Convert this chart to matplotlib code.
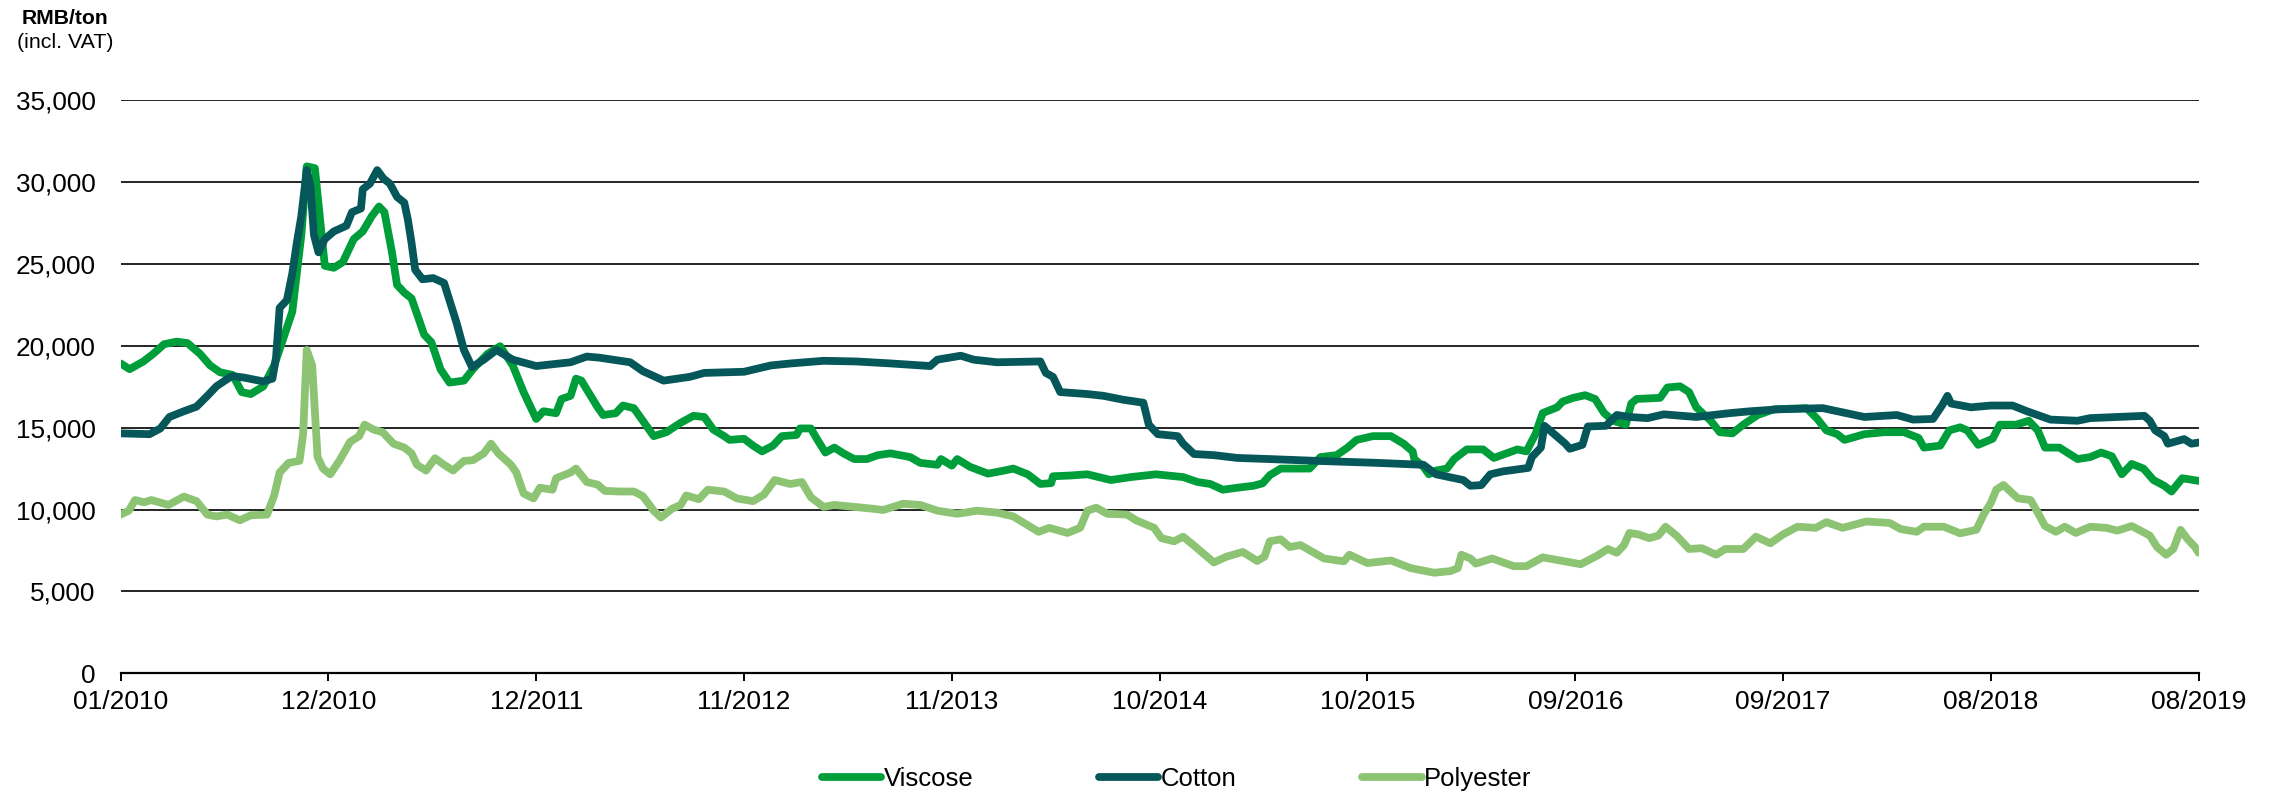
import matplotlib
matplotlib.use("Agg")
import matplotlib.pyplot as plt

plt.rcParams['font.family'] = ['Liberation Sans', 'DejaVu Sans']

# month index: 0 = 01/2010, 115 = 08/2019
viscose_m = [0, 0.5, 1.26, 1.8, 2.4, 3.1, 3.7, 4.4, 4.95, 5.5, 6.2, 6.7, 7.2, 7.9, 8.5, 9.0, 9.5, 9.75,
             10.0, 10.3, 10.75, 11.0, 11.3, 11.8, 12.3, 12.9, 13.4, 13.9, 14.3, 14.6, 15.0, 15.3, 15.7,
             16.1, 16.5, 16.8, 17.2, 17.7, 18.2, 19.0, 19.5, 20.3, 21.0, 21.7, 22.3, 23.0, 23.4, 24.1,
             24.4, 24.9, 25.2, 25.5, 26.4, 26.7, 27.4, 27.8, 28.4, 28.9, 29.5, 30.2, 31.0, 31.7, 32.3,
             32.8, 33.4, 33.7, 34.5, 35.0, 35.5, 36.1, 36.6, 37.4, 37.6, 38.2, 38.5, 39.0, 39.5, 40.0,
             40.6, 41.3, 41.9, 42.6, 43.7, 44.25, 45.2, 45.4, 46.0, 46.3, 47.0, 48.0, 48.9, 49.4, 50.2,
             50.9, 51.5, 51.6, 52.6, 53.5, 54.8, 55.9, 57.3, 58.8, 59.6, 60.3, 61.0, 61.8, 62.7, 63.2,
             63.6, 64.2, 64.9, 65.8, 66.4, 67.3, 67.9, 68.4, 69.3, 70.3, 71.0, 71.5, 71.6, 72.1, 72.4,
             72.8, 73.4, 73.8, 74.5, 75.4, 76.0, 76.7, 77.3, 77.8, 78.3, 78.7, 79.5, 79.8, 80.4, 81.05,
             81.6, 82.1, 82.6, 83.3, 83.6, 83.9, 85.2, 85.6, 86.3, 86.8, 87.2, 88.0, 88.5, 89.2, 89.8,
             90.6, 91.5, 93.3, 93.9, 94.4, 95.0, 95.4, 96.5, 97.6, 98.7, 99.5, 99.8, 100.7, 101.2, 101.8,
             102.2, 102.8, 103.6, 104.0, 104.9, 105.6, 106.1, 106.5, 107.3, 108.3, 109.0, 109.6, 110.2,
             110.75, 111.3, 111.95, 112.5, 113.1, 113.5, 114.1, 115.0]
viscose = [18920, 18570, 19040, 19500, 20090, 20250, 20160, 19500, 18800, 18380, 18220, 17170, 17050,
           17520, 18800, 20440, 22080, 24410, 26750, 30950, 30840, 28150, 24880, 24760, 25110, 26510,
           26980, 27910, 28500, 28150, 25810, 23710, 23240, 22890, 21610, 20670, 20210, 18570, 17750,
           17870, 18570, 19500, 19970, 18800, 17170, 15530, 16000, 15880, 16750, 16940, 17990, 17870,
           16240, 15770, 15880, 16350, 16190, 15420, 14480, 14720, 15300, 15720, 15650, 14880, 14480,
           14250, 14320, 13900, 13550, 13900, 14480, 14550, 14950, 14950, 14370, 13480, 13780, 13430,
           13080, 13080, 13320, 13430, 13200, 12850, 12730, 13080, 12680, 13080, 12610, 12190, 12380,
           12500, 12150, 11560, 11610, 12030, 12080, 12150, 11800, 11980, 12150, 11980, 11680, 11560,
           11210, 11330, 11450, 11600, 12100, 12500, 12500, 12500, 13200, 13320, 13780, 14250, 14480,
           14480, 14020, 13550, 13080, 12610, 12150, 12380, 12500, 13080, 13670, 13670, 13150, 13430,
           13670, 13550, 14600, 15890, 16240, 16590, 16820, 16980, 16750, 15890, 15420, 15180, 16470,
           16750, 16820, 17450, 17520, 17170, 16240, 15420, 14720, 14650, 15180, 15770, 16120, 16190,
           15530, 14830, 14600, 14250, 14600, 14720, 14720, 14370, 13780, 13900, 14830, 15020, 14830,
           13950, 14320, 15180, 15180, 15420, 14830, 13780, 13780, 13080, 13200, 13480, 13250, 12150,
           12780, 12500, 11800, 11450, 11100, 11910, 11750]

cotton_m = [0, 1.6, 2.2, 2.7, 3.5, 4.2, 4.8, 5.3, 6.15, 6.8, 7.9, 8.4, 8.6, 8.8, 9.2, 9.5, 9.75, 10.0,
            10.3, 10.5, 10.7, 10.95, 11.3, 11.8, 12.5, 12.8, 13.3, 13.4, 13.8, 14.2, 14.55, 14.9, 15.3,
            15.7, 15.9, 16.1, 16.3, 16.7, 17.3, 17.9, 18.2, 18.6, 19.0, 19.45, 20.1, 20.8, 21.7, 23.0,
            24.9, 25.8, 26.5, 28.2, 28.9, 30.05, 31.5, 32.3, 34.5, 36.0, 37.1, 38.9, 40.7, 42.6, 44.8,
            45.2, 46.5, 47.2, 48.5, 50.9, 51.2, 51.6, 52.0, 53.5, 54.4, 55.5, 56.6, 56.9, 57.4, 58.5,
            58.8, 59.4, 60.5, 61.8, 63.6, 66.2, 69.5, 72.1, 72.8, 74.3, 74.7, 75.3, 75.8, 76.5, 77.9,
            78.1, 78.6, 78.8, 79.95, 80.2, 80.9, 81.2, 82.2, 82.8, 83.5, 84.5, 85.4, 87.2, 89.1, 90.2,
            91.8, 94.2, 96.5, 98.3, 99.2, 100.3, 100.8, 101.1, 101.3, 102.4, 103.5, 104.7, 105.5, 106.8,
            108.3, 109.0, 110.5, 112.0, 112.3, 112.6, 113.1, 113.3, 114.2, 114.6, 115.0]
cotton = [14650, 14600, 14950, 15650, 16000, 16280, 16940, 17520, 18150, 18060, 17820, 17990, 19270,
          22310, 22780, 24410, 26280, 27910, 30720, 29780, 26750, 25700, 26510, 26980, 27330, 28150,
          28380, 29550, 29900, 30720, 30200, 29900, 29080, 28730, 27680, 26280, 24640, 24060, 24130,
          23830, 22780, 21370, 19740, 18690, 19150, 19740, 19150, 18760, 18990, 19340, 19270, 18990,
          18450, 17870, 18100, 18340, 18410, 18800, 18920, 19080, 19040, 18920, 18760, 19150, 19390,
          19150, 18990, 19040, 18340, 18100, 17170, 17050, 16940, 16700, 16520, 15180, 14600, 14480,
          14020, 13390, 13320, 13150, 13080, 12970, 12850, 12730, 12150, 11800, 11450, 11490, 12150,
          12330, 12540, 13200, 13780, 15110, 14020, 13710, 13950, 15070, 15110, 15770, 15650, 15580,
          15810, 15650, 15890, 16000, 16120, 16190, 15650, 15770, 15490, 15530, 16350, 16940, 16470,
          16240, 16350, 16350, 16000, 15490, 15420, 15580, 15650, 15720, 15420, 14830, 14480, 14020,
          14300, 14020, 14090]

polyester_m = [0, 0.45, 0.8, 1.3, 1.7, 2.65, 3.5, 4.2, 4.8, 5.3, 5.9, 6.6, 7.2, 8.1, 8.5, 8.8, 9.3, 9.9,
               10.1, 10.3, 10.6, 10.9, 11.2, 11.6, 12.1, 12.7, 13.2, 13.5, 14.0, 14.5, 15.1, 15.7, 16.1,
               16.4, 16.9, 17.4, 17.9, 18.4, 19.0, 19.5, 20.1, 20.5, 20.9, 21.6, 21.9, 22.3, 22.85, 23.2,
               23.9, 24.1, 24.9, 25.2, 25.8, 26.4, 26.8, 27.6, 28.4, 28.9, 29.5, 29.9, 30.5, 31.0, 31.3,
               32.0, 32.5, 33.4, 34.1, 35.0, 35.6, 36.2, 37.05, 37.7, 38.2, 38.9, 39.5, 40.6, 41.7, 42.2,
               43.3, 44.25, 45.2, 46.3, 47.4, 48.5, 49.4, 50.2, 50.8, 51.4, 52.4, 53.1, 53.5, 54.0, 54.6,
               55.7, 56.2, 57.2, 57.6, 58.3, 58.8, 59.5, 60.5, 61.2, 62.1, 62.9, 63.3, 63.6, 64.2, 64.7,
               65.3, 66.6, 67.7, 68.0, 69.0, 70.3, 71.4, 72.7, 73.6, 74.0, 74.2, 74.7, 75.0, 75.9, 77.1,
               77.8, 78.7, 80.8, 81.7, 82.3, 82.8, 83.2, 83.5, 84.0, 84.6, 85.1, 85.5, 86.1, 86.8, 87.5,
               88.3, 88.8, 89.8, 90.5, 91.3, 92.0, 92.8, 93.8, 94.4, 95.3, 96.6, 97.9, 98.5, 99.4, 99.8,
               100.9, 101.8, 102.7, 103.1, 103.5, 103.8, 104.2, 104.7, 105.0, 105.7, 106.1, 106.5, 107.1,
               107.6, 108.2, 109.0, 109.9, 110.5, 111.3, 112.3, 112.7, 113.2, 113.6, 114.0, 114.4, 114.8,
               115.0]
polyester = [9690, 9930, 10580, 10440, 10580, 10280, 10790, 10510, 9690, 9580, 9690, 9340, 9650, 9690,
             10860, 12260, 12850, 12970, 14600, 19740, 18800, 13200, 12500, 12150, 12970, 14130, 14480,
             15180, 14880, 14720, 14020, 13780, 13430, 12730, 12380, 13130, 12730, 12380, 12970, 13010,
             13430, 14020, 13430, 12730, 12260, 10980, 10680, 11330, 11210, 11910, 12260, 12500, 11680,
             11520, 11140, 11100, 11100, 10820, 9930, 9510, 10040, 10280, 10860, 10630, 11210, 11100,
             10680, 10510, 10910, 11800, 11560, 11680, 10750, 10160, 10280, 10160, 10040, 9970, 10350,
             10280, 9930, 9740, 9930, 9810, 9580, 9040, 8640, 8880, 8570, 8880, 9930, 10110, 9740, 9690,
             9340, 8880, 8250, 8060, 8340, 7710, 6770, 7120, 7410, 6860, 7120, 8060, 8180, 7710, 7830,
             7010, 6840, 7240, 6730, 6890, 6420, 6140, 6240, 6420, 7240, 7010, 6700, 7010, 6540, 6540,
             7080, 6660, 7170, 7590, 7360, 7830, 8570, 8480, 8250, 8410, 8950, 8410, 7590, 7640, 7240,
             7590, 7590, 8340, 7940, 8480, 8950, 8880, 9230, 8880, 9270, 9180, 8810, 8640, 8950, 8950,
             8550, 8760, 9690, 10400, 11210, 11500, 10980, 10680, 10580, 9810, 8990, 8640, 8950, 8570,
             8950, 8880, 8710, 8990, 8410, 7710, 7240, 7590, 8760, 8180, 7710, 7360]

x_labels = ['01/2010', '12/2010', '12/2011', '11/2012', '11/2013', '10/2014',
            '10/2015', '09/2016', '09/2017', '08/2018', '08/2019']
y_ticks = [0, 5000, 10000, 15000, 20000, 25000, 30000, 35000]

fig = plt.figure(figsize=(22.76, 7.94), dpi=100)
ax = fig.add_axes([0.053, 0.152, 0.913, 0.722])

ax.plot(viscose_m, viscose, color='#009E3A', lw=5.6, solid_capstyle='round',
        solid_joinstyle='round', label='Viscose', zorder=3)
ax.plot(cotton_m, cotton, color='#05575A', lw=5.6, solid_capstyle='round',
        solid_joinstyle='round', label='Cotton', zorder=4)
ax.plot(polyester_m, polyester, color='#8CC474', lw=5.6, solid_capstyle='round',
        solid_joinstyle='round', label='Polyester', zorder=5)

ax.set_xlim(0, 115)
ax.set_ylim(0, 35000)
ax.set_xticks([i * 11.5 for i in range(len(x_labels))])
ax.set_xticklabels(x_labels, fontsize=19)
ax.set_yticks(y_ticks)
ax.set_yticklabels(['{:,}'.format(v) for v in y_ticks], fontsize=18.8)
ax.tick_params(axis='x', direction='out', length=6, width=1.4, pad=6, color='black')
ax.tick_params(axis='y', length=0, pad=18)

for v in y_ticks[1:]:
    ax.axhline(v, color='black', lw=1.2, zorder=1)
for side in ['top', 'right', 'left']:
    ax.spines[side].set_visible(False)
ax.spines['bottom'].set_linewidth(1.6)
ax.spines['bottom'].set_zorder(2)

fig.text(65 / 2276, 1 - 19 / 794, 'RMB/ton', ha='center', va='center', fontsize=15.2, weight='bold')
fig.text(65 / 2276, 1 - 43 / 794, '(incl. VAT)', ha='center', va='center', fontsize=15.4)

fig.legend(loc='center', bbox_to_anchor=(0.517, 0.019), ncol=3, frameon=False,
           handlelength=2.3, handletextpad=0.1, columnspacing=4.9, fontsize=18.5)

plt.savefig('out.png', dpi=100)
